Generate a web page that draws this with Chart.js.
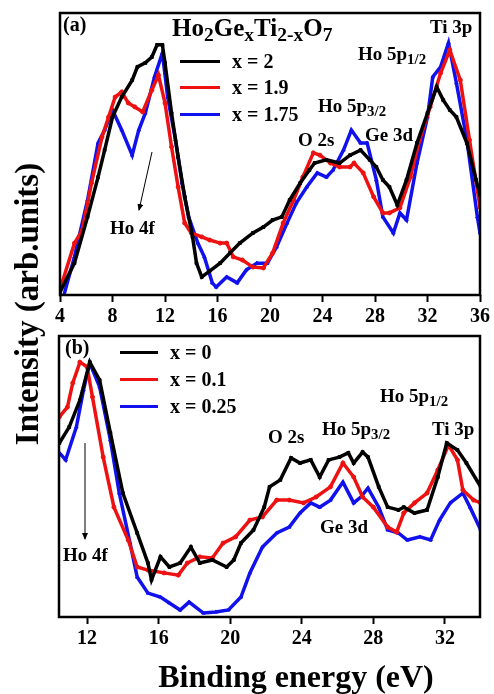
<!DOCTYPE html>
<html><head><meta charset="utf-8">
<script src="https://cdn.jsdelivr.net/npm/chart.js@4.4.1/dist/chart.umd.min.js"></script>
<style>
html,body{margin:0;padding:0;background:#fff;}
body{width:494px;height:694px;position:relative;overflow:hidden;font-family:"Liberation Serif","Times New Roman",serif;font-weight:bold;color:#000;}
.c{position:absolute;left:0;}
.t{position:absolute;white-space:nowrap;line-height:1;font-size:19px;}
.t sub{font-size:0.78em;vertical-align:-0.28em;line-height:0;}
.lg{position:absolute;height:3px;}
.lt{position:absolute;white-space:nowrap;line-height:1;font-size:20px;}
</style></head><body>
<div class="c" style="top:0"><canvas id="ca" width="494" height="330"></canvas></div>
<div class="c" style="top:330px"><canvas id="cb" width="494" height="364"></canvas></div>

<!-- panel (a) texts -->
<div class="t" style="left:63px;top:14px;font-size:20px">(a)</div>
<div class="t" style="left:172px;top:15px;font-size:25px">Ho<sub>2</sub>Ge<sub>x</sub>Ti<sub>2-x</sub>O<sub>7</sub></div>
<div class="t" style="left:430px;top:17px">Ti 3p</div>
<div class="t" style="left:358px;top:44px">Ho 5p<sub>1/2</sub></div>
<div class="t" style="left:318px;top:96px">Ho 5p<sub>3/2</sub></div>
<div class="t" style="left:298px;top:130px">O 2s</div>
<div class="t" style="left:365px;top:125px">Ge 3d</div>
<div class="t" style="left:110px;top:218px">Ho 4f</div>

<!-- panel (b) texts -->
<div class="t" style="left:65px;top:337px;font-size:20px">(b)</div>
<div class="t" style="left:380px;top:386px">Ho 5p<sub>1/2</sub></div>
<div class="t" style="left:432px;top:419px">Ti 3p</div>
<div class="t" style="left:268px;top:427px">O 2s</div>
<div class="t" style="left:322px;top:419px">Ho 5p<sub>3/2</sub></div>
<div class="t" style="left:320px;top:517px">Ge 3d</div>
<div class="t" style="left:63px;top:545px">Ho 4f</div>

<div id="legA"></div>
<div id="legB"></div>

<svg style="position:absolute;left:0;top:0" width="494" height="694">
  <defs><marker id="ah" markerWidth="8" markerHeight="8" refX="6" refY="3" orient="auto" markerUnits="userSpaceOnUse">
    <path d="M0,0 L7,3 L0,6 Z" fill="#000"/></marker></defs>
  <line x1="152" y1="152" x2="139" y2="210" stroke="#000" stroke-width="1" marker-end="url(#ah)"/>
  <line x1="85" y1="443" x2="85" y2="539" stroke="#000" stroke-width="1" marker-end="url(#ah)"/>
</svg>

<div class="t" style="left:27px;top:304px;font-size:33px;transform:translate(-50%,-50%) rotate(-90deg);">Intensity (arb.units)</div>
<div class="t" style="left:296px;top:660px;font-size:32px;transform:translateX(-50%);">Binding energy (eV)</div>

<script>
// ---------- Panel (a): Ho2GexTi2-xO7, x = 2, 1.9, 1.75 ----------
const seriesNamesA = ["x = 2", "x = 1.9", "x = 1.75"];
const energyA_x2 = [4.0,5.1,6.1,6.9,7.4,8.0,8.7,9.5,9.9,10.5,11.0,11.4,11.8,12.0,12.5,13.0,13.5,14.1,14.4,14.8,15.4,16.2,16.95,17.7,18.7,19.5,20.2,20.9,21.5,22.3,23.0,23.4,24.3,25.3,26.1,26.9,27.6,28.1,28.6,29.1,29.7,30.4,31.2,32.0,32.7,33.2,33.7,34.2,35.0,35.7,36.0];
const intensityA_x2 = [1.0,11.3,27.7,41.8,51.4,63.1,70.2,76.2,80.9,82.3,84.4,88.7,88.7,82.3,64.5,48.9,34.8,20.6,11.3,6.4,8.5,11.3,14.9,18.4,22.0,24.1,26.6,27.7,33.7,39.7,44.3,46.8,47.9,46.8,49.6,51.4,47.9,45.4,40.8,38.3,31.9,40.8,53.9,64.5,73.8,69.1,65.6,63.1,53.9,40.8,35.5];
const energyA_x19 = [4.0,5.1,5.7,6.4,7.2,7.7,8.2,8.7,9.2,9.7,10.3,11.0,11.5,12.0,12.5,13.0,13.5,14.0,14.8,15.4,16.2,16.7,17.2,17.9,18.7,19.5,20.2,21.0,21.8,22.5,23.3,23.8,24.6,25.3,26.1,26.4,27.1,27.9,28.6,29.1,29.9,30.7,31.4,32.2,33.0,33.7,34.5,35.2,36.0];
const intensityA_x19 = [2.0,18.4,23.0,39.7,56.0,63.1,70.2,72.0,68.1,66.7,64.9,72.7,78.0,68.1,52.5,38.3,25.5,22.0,20.6,19.5,18.4,18.4,13.5,12.4,9.9,9.6,14.9,25.5,33.7,41.8,50.4,49.6,46.8,45.4,45.4,46.8,43.3,34.8,29.1,29.1,30.9,41.8,55.0,66.7,78.7,86.9,76.2,55.0,31.2];
const energyA_x175 = [4.3,5.1,6.1,6.9,7.4,8.0,8.7,9.5,10.0,10.5,11.2,11.8,12.2,12.8,13.3,13.8,14.5,15.0,15.6,15.9,16.7,17.5,18.2,19.0,19.8,20.5,21.3,22.0,22.8,23.6,24.3,24.8,25.6,26.2,26.9,27.4,28.1,28.6,29.4,29.9,30.4,31.2,32.0,32.4,33.0,33.6,34.2,35.0,35.8,36.0];
const intensityA_x175 = [0.0,13.5,33.7,53.9,58.5,65.6,58.5,49.6,58.5,64.5,77.3,85.8,70.2,55.0,39.7,27.7,18.4,13.5,4.3,2.8,6.4,4.3,8.9,11.3,11.3,17.0,25.5,32.6,38.3,43.3,41.8,44.3,51.4,58.5,53.9,53.9,40.8,27.7,22.0,29.1,26.6,46.8,63.1,77.3,80.9,89.4,75.2,55.0,27.7,22.0];
const xTicksA = [4,8,12,16,20,24,28,32,36];

// ---------- Panel (b): x = 0, 0.1, 0.25 ----------
const seriesNamesB = ["x = 0", "x = 0.1", "x = 0.25"];
const energyB_x0 = [10.45,11.0,11.6,12.15,12.7,13.3,14.0,14.8,15.4,15.6,16.1,16.6,17.2,17.8,18.3,19.0,19.8,20.2,20.6,21.3,21.9,22.2,22.8,23.4,23.9,24.5,25.0,25.5,26.1,26.6,26.9,27.4,27.7,28.3,28.8,29.4,29.7,30.3,31.0,31.6,32.1,32.7,33.2,34.0];
const intensityB_x0 = [61.9,67.6,77.2,90.7,84.3,65.5,44.1,29.9,19.2,13.2,21.4,17.8,19.2,24.9,19.2,20.3,17.8,20.3,26.3,31.0,39.1,46.3,48.8,56.6,54.8,55.9,49.8,55.9,56.9,58.4,54.8,58.7,56.9,46.3,39.1,38.1,39.1,37.0,38.1,49.8,61.9,59.4,54.8,46.3];
const energyB_x01 = [10.45,10.9,11.2,11.6,12.0,12.3,12.9,13.5,14.3,14.8,15.4,16.3,17.1,17.6,18.3,19.0,19.6,20.3,21.1,21.8,22.6,23.3,24.1,24.8,25.6,26.3,26.9,27.4,28.0,28.8,29.3,29.7,30.3,31.0,31.6,32.2,32.7,33.0,33.6,34.0];
const intensityB_x01 = [71.2,74.7,83.3,90.7,89.0,78.3,56.9,39.1,27.4,17.8,16.7,15.7,14.9,19.2,21.4,21.0,26.3,28.5,34.5,35.6,41.6,41.6,40.6,42.7,46.3,54.8,49.8,42.7,39.1,32.0,30.2,37.0,40.6,44.1,52.3,61.2,55.9,45.2,41.6,40.6];
const energyB_x025 = [10.45,10.8,11.4,11.8,12.15,12.7,13.3,13.8,14.4,14.8,15.4,16.1,16.6,17.2,17.7,18.5,19.2,19.9,20.6,21.1,21.8,22.6,23.3,23.9,24.5,25.0,25.6,26.3,26.9,27.3,27.7,28.3,28.8,29.4,29.9,30.6,31.2,31.7,32.3,33.0,33.4,34.0];
const intensityB_x025 = [58.4,55.9,67.6,80.8,90.4,81.9,63.0,44.1,26.3,14.2,8.5,7.1,5.0,2.5,5.3,1.4,1.8,2.5,7.1,15.7,24.9,29.9,32.0,37.0,40.6,39.1,41.6,48.0,40.6,42.7,45.9,39.1,31.0,29.9,27.4,28.5,27.4,34.5,40.6,44.1,39.1,31.0];
const xTicksB = [12,16,20,24,28,32];

const seriesColors = ["#000000", "#ee1111", "#1111ee"];
const seriesMarkers = ["rect", "circle", "triangle"];

function pts(xs, ys){ return xs.map((x,i)=>({x:x, y:ys[i]})); }
function ds(label, xs, ys, i){
  return {label, data: pts(xs,ys), borderColor: seriesColors[i], backgroundColor: seriesColors[i],
    borderWidth: 3.5, pointRadius: 2, pointStyle: seriesMarkers[i], pointBorderWidth: 1, tension: 0};
}
const FONT = '"Liberation Serif","Times New Roman",serif';
const framePlugin = {id:'frame', afterDatasetsDraw(chart){
  const {ctx, chartArea:a} = chart; ctx.save(); ctx.strokeStyle='#000'; ctx.lineWidth=2.5;
  ctx.strokeRect(a.left, a.top, a.right-a.left, a.bottom-a.top); ctx.restore(); }};

function makeChart(id, datasets, xmin, xmax, ticks, pad, axisH){
  return new Chart(document.getElementById(id), {
    type: 'line',
    data: {datasets},
    options: {
      responsive: false, animation: false, devicePixelRatio: 1,
      layout: {padding: pad},
      plugins: {legend: {display:false}, tooltip: {enabled:false}},
      scales: {
        x: {type:'linear', min:xmin, max:xmax,
          afterBuildTicks: ax => { ax.ticks = ticks.map(v=>({value:v})); },
          afterFit: s => { s.height = axisH; },
          ticks: {color:'#000', padding:3, maxRotation:0, autoSkip:false, font:{family:FONT, size:20, weight:'bold'}},
          grid: {drawOnChartArea:false, drawTicks:true, tickLength:7, tickWidth:2, tickColor:'#000'},
          border: {display:false}},
        y: {display:false, min:0, max:100}
      }
    },
    plugins: [framePlugin]
  });
}

makeChart('ca', [
  ds(seriesNamesA[0], energyA_x2, intensityA_x2, 0),
  ds(seriesNamesA[1], energyA_x19, intensityA_x19, 1),
  ds(seriesNamesA[2], energyA_x175, intensityA_x175, 2)
], 4, 36, xTicksA, {left:60, right:14, top:13, bottom:0}, 35);

makeChart('cb', [
  ds(seriesNamesB[0], energyB_x0, intensityB_x0, 0),
  ds(seriesNamesB[1], energyB_x01, intensityB_x01, 1),
  ds(seriesNamesB[2], energyB_x025, intensityB_x025, 2)
], 10.43, 33.96, xTicksB, {left:59, right:14, top:6, bottom:0}, 77);

// HTML legends
function legend(el, names, x0, x1, tx, ys){
  let h = '';
  names.forEach((n,i)=>{
    const y = ys[i];
    h += `<div class="lg" style="left:${x0}px;top:${y-1.5}px;width:${x1-x0}px;background:${seriesColors[i]}"></div>`;
    h += `<div class="lt" style="left:${tx}px;top:${y-10}px">${n}</div>`;
  });
  document.getElementById(el).innerHTML = h;
}
legend('legA', seriesNamesA, 180, 220, 232, [61, 87, 114]);
legend('legB', seriesNamesB, 120, 158, 170, [352, 379, 406]);
</script>
</body></html>
